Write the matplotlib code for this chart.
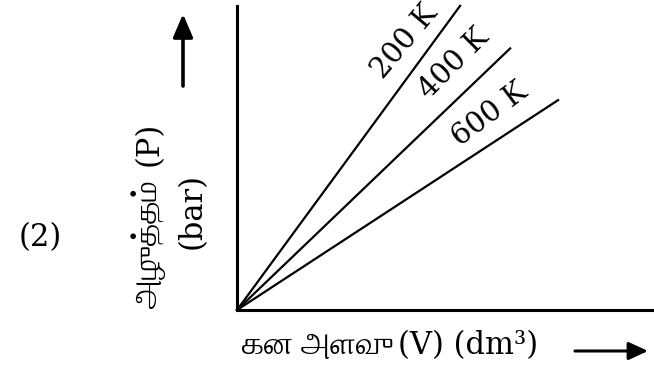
import matplotlib
matplotlib.use("Agg")
import matplotlib.pyplot as plt

# P-V lines for three temperatures, all starting at the origin
temps = ["200 K", "400 K", "600 K"]
v_end = [5.35, 6.55, 7.7]
p_end = [10.0, 8.6, 6.9]

# where each temperature label sits, and its slant
label_x = [4.03, 5.20, 6.07]
label_y = [8.82, 8.09, 6.41]
label_rot = [50, 45, 37]

# Latin from DejaVu Serif, Tamil falls back to FreeSerif
fam = ["DejaVu Serif", "FreeSerif"]

fig = plt.figure(figsize=(6.54, 3.76), dpi=100)
ax = fig.add_axes([0.3624, 0.1755, 0.6376, 0.809])
ax.set_xlim(0, 10)
ax.set_ylim(0, 10)
for side in ["top", "right"]:
	ax.spines[side].set_visible(False)
for side in ["left", "bottom"]:
	ax.spines[side].set_linewidth(2.2)
ax.set_xticks([])
ax.set_yticks([])

for t, v, p, lx, ly, r in zip(temps, v_end, p_end, label_x, label_y, label_rot):
	ax.plot([0, v], [0, p], color="black", lw=1.6, clip_on=False)
	ax.text(lx, ly, t, rotation=r, ha="center", va="center",
		fontsize=21, family=fam, rotation_mode="anchor")

# axis titles: the Tamil words are set a bit larger than the units
fig.text(242 / 654, 1 - 346 / 376, "கன அளவு", ha="left", va="center",
	fontsize=23, family="FreeSerif")
fig.text(398 / 654, 1 - 346 / 376, "(V) (dm³)", ha="left", va="center",
	fontsize=22, family=fam)
fig.text(149 / 654, 1 - 244 / 376, "அழுத்தம்", rotation=90, ha="center", va="center",
	fontsize=23, family="FreeSerif")
fig.text(149 / 654, 1 - 144 / 376, "(P)", rotation=90, ha="center", va="center",
	fontsize=22, family=fam)
fig.text(192 / 654, 1 - 211 / 376, "(bar)", rotation=90, ha="center", va="center",
	fontsize=22, family=fam)
fig.text(40 / 654, 1 - 238 / 376, "(2)", ha="center", va="center",
	fontsize=22, family=fam)

# direction arrows beside the titles
fig.add_artist(matplotlib.patches.FancyArrowPatch(
	(183 / 654, 1 - 86 / 376), (183 / 654, 1 - 14 / 376), transform=fig.transFigure,
	arrowstyle="-|>,head_length=0.7,head_width=0.3", mutation_scale=20,
	lw=2.6, color="black", shrinkA=0, shrinkB=0))
fig.add_artist(matplotlib.patches.FancyArrowPatch(
	(575 / 654, 1 - 351 / 376), (648 / 654, 1 - 351 / 376), transform=fig.transFigure,
	arrowstyle="-|>,head_length=0.65,head_width=0.3", mutation_scale=18,
	lw=2.2, color="black", shrinkA=0, shrinkB=0))

fig.savefig("out.png", dpi=100)
